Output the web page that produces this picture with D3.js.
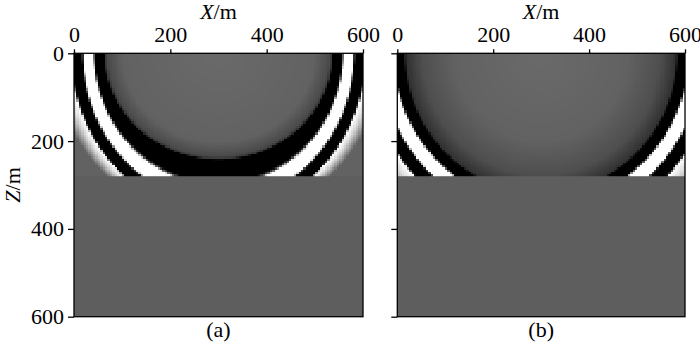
<!DOCTYPE html>
<html><head><meta charset="utf-8">
<script src="https://cdn.jsdelivr.net/npm/d3@7"></script>
<style>body{margin:0;background:#fff}svg{display:block}</style>
</head><body>
<svg id="chart" width="700" height="346"></svg>
<script>
// ---------- data ----------
const xTicks = [0, 200, 400, 600];
const zTicks = [0, 200, 400, 600];
const panelLabels = ["(a)", "(b)"];
const sourceX = 300, sourceZ = 0;      // source position (m)
const layerBottom = 280;               // wavefield shown above this depth (m)
const gridStep = 5;                    // simulation grid spacing (m)

// panel (a): wavefront shape (horizontal radius -> vertical radius, m)
const aFrontX = [0, 240, 260, 284, 308, 345, 600];
const aFrontZ = [0, 243, 298, 338, 364, 380, 640];
// panel (a): amplitude along the front (horizontal radius, m -> amplitude)
const aProfileR = [0, 200, 232, 237, 240, 258, 262, 282, 286, 306, 310, 322, 345];
const aProfileV = [0.05, 0, -0.25, -0.45, -1, -1, 1, 1, -1, -1, 1, 0.75, 0];

// panel (b)
const bFrontX = [0, 288, 310, 340, 365, 420, 700];
const bFrontZ = [0, 320, 344, 380, 410, 470, 780];
const bProfileR = [0, 180, 250, 284, 288, 308, 312, 336, 340, 362, 366, 385, 420];
const bProfileV = [0.05, 0, -0.2, -0.5, -1, -1, 1, 1, -1, -1, 1, 0.7, 0];

const ampColor = ["#000000", "#626262", "#ffffff"]; // amplitude -1, 0, +1
const backgroundGray = "#5e5e5e";

// ---------- layout ----------
const panels = [
  {x0: 74, x1: 363, label: panelLabels[0], frontX: aFrontX, frontZ: aFrontZ, profR: aProfileR, profV: aProfileV, showZ: true},
  {x0: 397.3, x1: 685, label: panelLabels[1], frontX: bFrontX, frontZ: bFrontZ, profR: bProfileR, profV: bProfileV, showZ: false}
];
const yTop = 53.3, yBot = 316.7;
const font = "'Liberation Serif', 'Times New Roman', serif";

const svg = d3.select("#chart");
const color = d3.scaleLinear().domain([-1, 0, 1]).range(ampColor).clamp(true);

panels.forEach((p, pi) => {
  const x = d3.scaleLinear().domain([0, 600]).range([p.x0, p.x1]);
  const z = d3.scaleLinear().domain([0, 600]).range([yTop, yBot]);
  const frontZ = d3.scaleLinear().domain(p.frontX).range(p.frontZ);
  const prof = d3.scaleLinear().domain(p.profR).range(p.profV).clamp(true);

  // horizontal radius s of the front through (dx, dz): (dx/s)^2 + (dz/frontZ(s))^2 = 1
  function radius(dx, dz) {
    let lo = 1e-3, hi = 2000;
    for (let k = 0; k < 40; k++) {
      const m = (lo + hi) / 2;
      const f = (dx / m) ** 2 + (dz / frontZ(m)) ** 2;
      if (f > 1) lo = m; else hi = m;
    }
    return (lo + hi) / 2;
  }

  const nx = Math.round(600 / gridStep) + 1;
  const nz = Math.round(layerBottom / gridStep);
  const cv = document.createElement("canvas");
  cv.width = nx; cv.height = nz;
  const ctx = cv.getContext("2d");
  const img = ctx.createImageData(nx, nz);
  for (let j = 0; j < nz; j++) {
    for (let i = 0; i < nx; i++) {
      const dx = i * gridStep - sourceX, dz = (j + 0.5) * gridStep - sourceZ;
      const v = prof(radius(Math.abs(dx), Math.abs(dz)));
      const c = d3.rgb(color(v));
      const o = (j * nx + i) * 4;
      img.data[o] = c.r; img.data[o + 1] = c.g; img.data[o + 2] = c.b; img.data[o + 3] = 255;
    }
  }
  ctx.putImageData(img, 0, 0);

  const g = svg.append("g");
  g.append("rect").attr("x", x(0)).attr("y", z(0)).attr("width", x(600) - x(0)).attr("height", z(600) - z(0))
    .attr("fill", backgroundGray);
  g.append("image").attr("href", cv.toDataURL())
    .attr("x", x(0)).attr("y", z(0))
    .attr("width", x(600) - x(0)).attr("height", z(layerBottom) - z(0))
    .attr("preserveAspectRatio", "none")
    .style("image-rendering", "pixelated");

  // frame
  g.append("rect").attr("x", x(0)).attr("y", z(0)).attr("width", x(600) - x(0)).attr("height", z(600) - z(0))
    .attr("fill", "none").attr("stroke", "#000").attr("stroke-width", 1.3);

  const ax = g.append("g").attr("transform", `translate(0,${z(0)})`)
    .call(d3.axisTop(x).tickValues(xTicks).tickSize(4).tickPadding(7).tickSizeOuter(0));
  ax.select(".domain").remove();
  ax.selectAll("text").attr("font-family", font).attr("font-size", 22).attr("fill", "#000");
  ax.selectAll("line").attr("stroke", "#000").attr("stroke-width", 1.3);

  const az = g.append("g").attr("transform", `translate(${x(0)},0)`)
    .call(d3.axisLeft(z).tickValues(zTicks).tickSize(6).tickPadding(4).tickSizeOuter(0)
      .tickFormat(p.showZ ? d3.format("d") : () => ""));
  az.select(".domain").remove();
  az.selectAll("text").attr("font-family", font).attr("font-size", 22).attr("fill", "#000");
  az.selectAll("line").attr("stroke", "#000").attr("stroke-width", 1.3);

  const xl = g.append("text").attr("x", (x(0) + x(600)) / 2).attr("y", 19)
    .attr("text-anchor", "middle").attr("font-family", font).attr("font-size", 22);
  xl.append("tspan").attr("font-style", "italic").text("X");
  xl.append("tspan").text("/m");

  if (p.showZ) {
    const zl = g.append("text").attr("transform", `translate(20,${(z(0) + z(600)) / 2}) rotate(-90)`)
      .attr("text-anchor", "middle").attr("font-family", font).attr("font-size", 22);
    zl.append("tspan").attr("font-style", "italic").text("Z");
    zl.append("tspan").text("/m");
  }

  g.append("text").attr("x", (x(0) + x(600)) / 2).attr("y", 337)
    .attr("text-anchor", "middle").attr("font-family", font).attr("font-size", 22).text(p.label);
});
</script>
</body></html>
